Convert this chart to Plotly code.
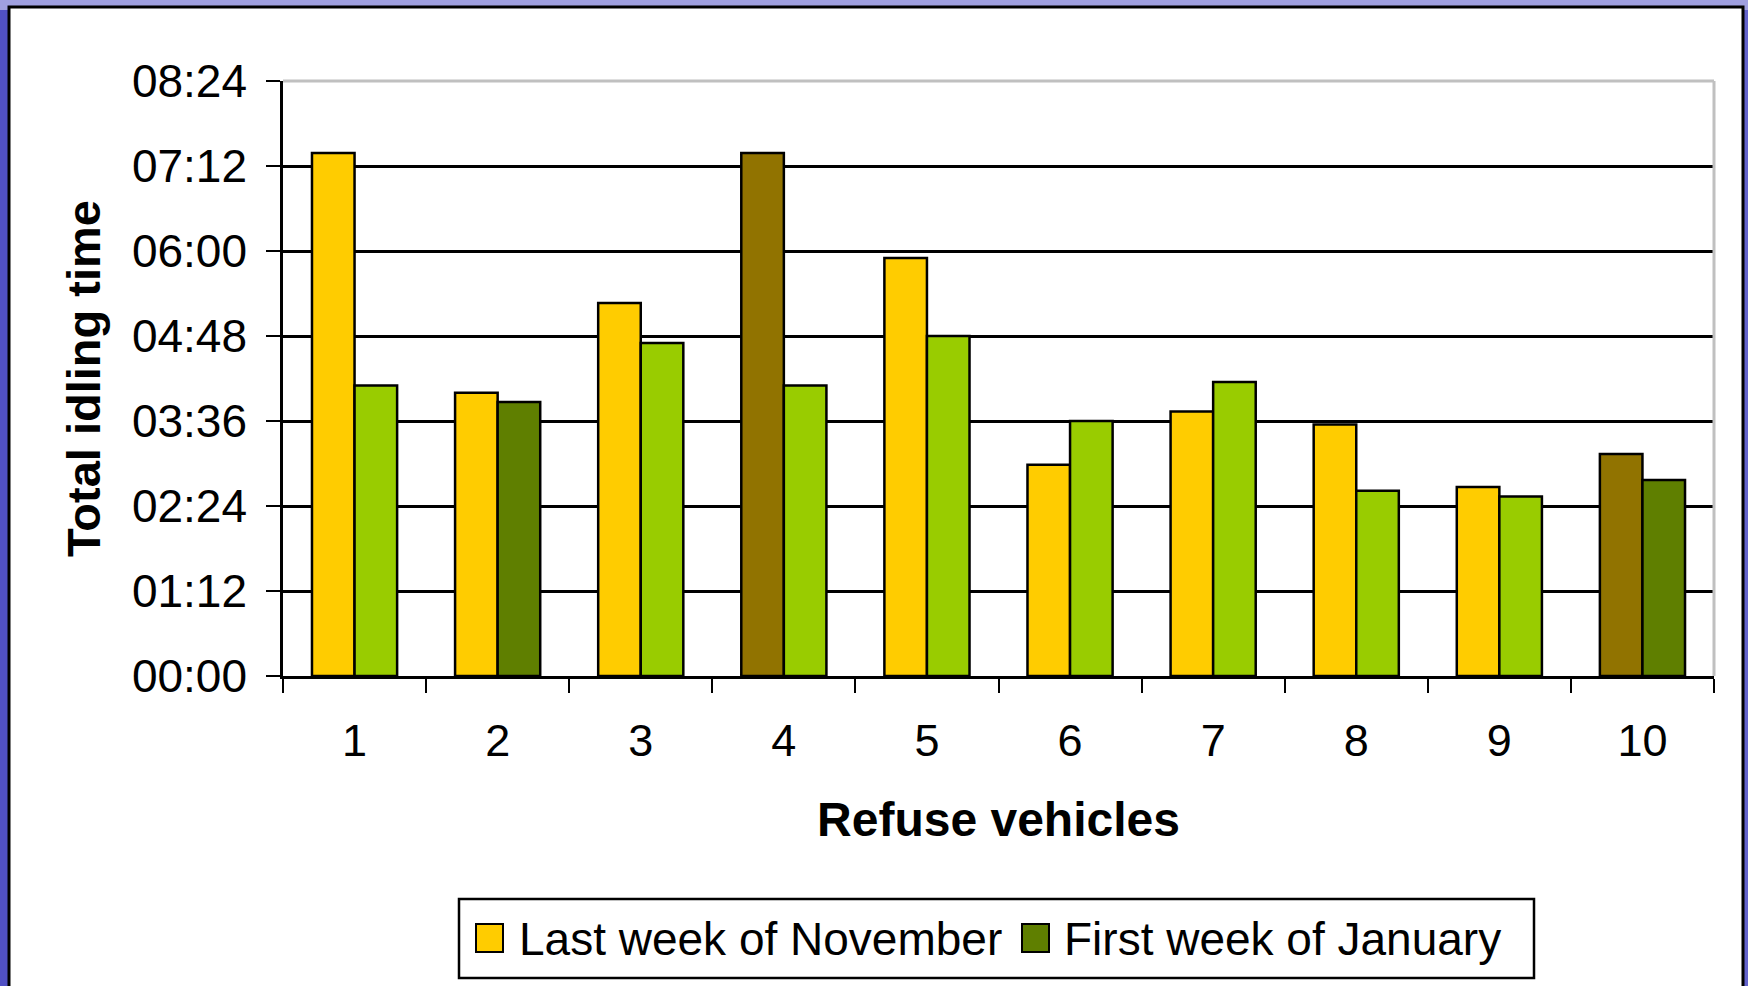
import plotly.graph_objects as go

# ---- data (minutes of idling) ----
vehicles = ["1", "2", "3", "4", "5", "6", "7", "8", "9", "10"]
last_week_nov = [443, 240, 316, 443, 354, 179, 224, 213, 160, 188]
first_week_jan = [246, 232, 282, 246, 288, 216, 249, 157, 152, 166]
tick_minutes = [0, 72, 144, 216, 288, 360, 432, 504]
tick_labels = ["00:00", "01:12", "02:24", "03:36", "04:48", "06:00", "07:12", "08:24"]
series_names = ["Last week of November", "First week of January"]

YELLOW = "#FFCC00"
BROWN = "#917300"
LGREEN = "#99CC00"
DGREEN = "#5F7F00"
nov_colors = [BROWN if v in ("4", "10") else YELLOW for v in vehicles]
jan_colors = [DGREEN if v in ("2", "10") else LGREEN for v in vehicles]

W, H = 1748, 986
L, R, T, B = 283, 34, 81, 310
PW, PH = W - L - R, H - T - B
FONT = "Liberation Sans, Arial, sans-serif"


def px(x):
    return (x - L) / PW


def py(y):
    return (H - B - y) / PH


fig = go.Figure()
fig.add_trace(go.Bar(
    x=vehicles, y=last_week_nov, name=series_names[0],
    marker=dict(color=nov_colors, line=dict(color="black", width=2.5)),
    showlegend=False,
))
fig.add_trace(go.Bar(
    x=vehicles, y=first_week_jan, name=series_names[1],
    marker=dict(color=jan_colors, line=dict(color="black", width=2.5)),
    showlegend=False,
))

shapes = []
# slide background strips
shapes.append(dict(type="rect", xref="paper", yref="paper", x0=px(0), x1=px(W), y0=py(0), y1=py(10),
                   fillcolor="#a0a0e0", line=dict(width=0), layer="below"))
shapes.append(dict(type="rect", xref="paper", yref="paper", x0=px(0), x1=px(10), y0=py(10), y1=py(H),
                   fillcolor="#5050c4", line=dict(width=0), layer="below"))
# white chart frame
shapes.append(dict(type="rect", xref="paper", yref="paper", x0=px(9), x1=px(1743), y0=py(7), y1=py(H + 10),
                   fillcolor="white", line=dict(color="black", width=3), layer="below"))
# plot area border (top & right, gray)
shapes.append(dict(type="line", xref="paper", yref="paper", x0=0, x1=1, y0=1, y1=1,
                   line=dict(color="#c0c0c0", width=3), layer="above"))
shapes.append(dict(type="line", xref="paper", yref="paper", x0=1, x1=1, y0=0, y1=1,
                   line=dict(color="#c0c0c0", width=3), layer="above"))
# legend box
shapes.append(dict(type="rect", xref="paper", yref="paper", x0=px(459), x1=px(1534), y0=py(899), y1=py(978),
                   fillcolor="white", line=dict(color="black", width=2.5), layer="below"))
legend_items = [(476, YELLOW, 517), (1022, DGREEN, 1062)]
annotations = []
for (sx, col, tx), name in zip(legend_items, series_names):
    shapes.append(dict(type="rect", xref="paper", yref="paper", x0=px(sx), x1=px(sx + 27),
                       y0=py(924), y1=py(952), fillcolor=col, line=dict(color="black", width=2), layer="above"))
    annotations.append(dict(xref="paper", yref="paper", x=px(tx), y=py(939), xanchor="left", yanchor="middle",
                            text=name, showarrow=False, font=dict(family=FONT, size=46, color="black")))

fig.update_layout(
    width=W, height=H,
    margin=dict(l=L, r=R, t=T, b=B, pad=0),
    paper_bgcolor="#6464cc",
    plot_bgcolor="white",
    barmode="group", bargap=0.405, bargroupgap=0,
    shapes=shapes, annotations=annotations,
    font=dict(family=FONT, size=44, color="black"),
    xaxis=dict(
        type="category", tickson="boundaries", ticks="outside", ticklen=14, tickwidth=2, tickcolor="black",
        showline=True, linecolor="black", linewidth=2.5, showgrid=False,
        tickfont=dict(size=45), ticklabelstandoff=23,
        title=dict(text="<b>Refuse vehicles</b>", font=dict(size=48), standoff=38),
    ),
    yaxis=dict(
        range=[0, 504], tickmode="array", tickvals=tick_minutes, ticktext=tick_labels,
        ticks="outside", ticklen=14, tickwidth=2, tickcolor="black",
        showline=True, linecolor="black", linewidth=2.5,
        showgrid=True, gridcolor="black", gridwidth=2.5, zeroline=False,
        tickfont=dict(size=46), ticklabelstandoff=10,
        title=dict(text="<b>Total idling time</b>", font=dict(size=47), standoff=17),
    ),
)

fig.write_html(
    "out.html",
    config={"displayModeBar": False},
    post_script="document.body.style.margin='0';document.body.style.overflow='hidden';",
)
